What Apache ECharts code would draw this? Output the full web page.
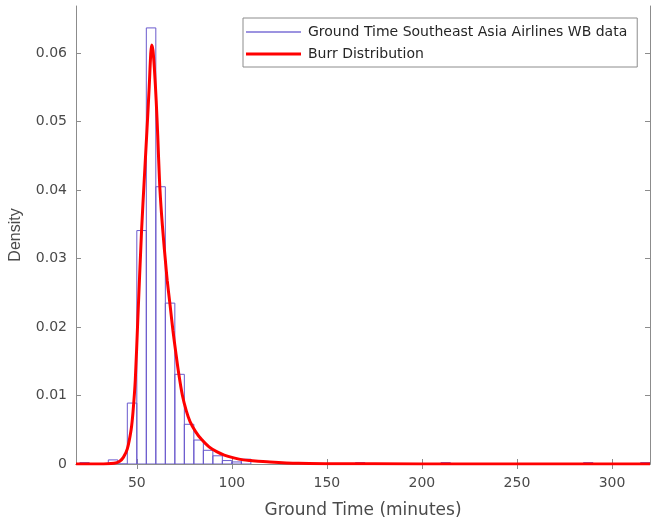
<!DOCTYPE html>
<html>
<head>
<meta charset="utf-8">
<script src="https://cdn.jsdelivr.net/npm/echarts@6/dist/echarts.min.js"></script>
<style>html,body{margin:0;padding:0;background:#fff;}#c{width:653px;height:522px;}</style>
</head>
<body>
<div id="c"></div>
<script>
// Histogram bins (left edge, minutes) and densities
const binStart = [20, 35, 40, 45, 50, 55, 60, 65, 70, 75, 80, 85, 90, 95, 100, 105, 165, 210, 285, 315];
const binWidth = 5;
const binDensity = [0.0002, 0.0006, 0, 0.0089, 0.0341, 0.0637, 0.0405, 0.0235, 0.0131, 0.0058, 0.0035, 0.0020, 0.0012, 0.0005, 0.0003, 0.0007, 0.0002, 0.0002, 0.0002, 0.0002];

// Fitted Burr curve
const curveX = [18, 30, 38, 41, 43, 45, 47, 48, 49.2, 50.5, 52.5, 54, 55.3, 56.5, 57.3, 57.8, 58.5, 59.3, 60.2, 61, 62, 63, 64, 65, 66, 67.5, 69, 70.5, 72, 74, 76, 78, 81, 84, 88, 92, 96, 101, 106, 110, 120, 135, 150, 200, 320];
const curveY = [0, 0, 0.0001, 0.0004, 0.0010, 0.0022, 0.0050, 0.0076, 0.0123, 0.0210, 0.0341, 0.0420, 0.0486, 0.0550, 0.0598, 0.0612, 0.0604, 0.0575, 0.0530, 0.0480, 0.0410, 0.0365, 0.0330, 0.0298, 0.0268, 0.0232, 0.0195, 0.0163, 0.0133, 0.0100, 0.0078, 0.0062, 0.0047, 0.0036, 0.0025, 0.0018, 0.0013, 0.0009, 0.0006, 0.0005, 0.0003, 0.0001, 0.00005, 0.00001, 0];

const xTicks = [50, 100, 150, 200, 250, 300];
const yTicks = [0, 0.01, 0.02, 0.03, 0.04, 0.05, 0.06];

const seriesNames = ['Ground Time Southeast Asia Airlines WB data', 'Burr Distribution'];
const histColor = '#6a5acd';
const fitColor = '#ff0000';

const histData = binStart.map((s, i) => [s, s + binWidth, binDensity[i]]);
const curveData = curveX.map((x, i) => [x, curveY[i]]);

const axisCol = '#8c8c8c';
const textCol = '#4a4a4a';
const font = '"DejaVu Sans", sans-serif';
const vfont = '"Liberation Sans", Arial, sans-serif';

const chart = echarts.init(document.getElementById('c'), null, {renderer: 'canvas'});
chart.setOption({
  animation: false,
  backgroundColor: '#ffffff',
  grid: {left: 76, right: 3, top: 6, bottom: 58, containLabel: false, outerBoundsMode: 'none'},
  legend: {
    left: 243, top: 18, orient: 'vertical',
    backgroundColor: '#ffffff', borderColor: '#8c8c8c', borderWidth: 1,
    padding: [7, 10, 6, 3], itemGap: 8, itemWidth: 55, itemHeight: 14,
    textStyle: {fontFamily: font, fontSize: 14, color: '#262626', padding: [0, 0, 0, 2]},
    data: [
      {name: seriesNames[0], icon: 'path://M0,0 L55,0 L55,1.6 L0,1.6 Z', itemStyle: {color: '#7b6fd6'}},
      {name: seriesNames[1], icon: 'path://M0,0 L55,0 L55,3 L0,3 Z', itemStyle: {color: fitColor}}
    ]
  },
  xAxis: [{
    type: 'value', min: 18, max: 320, position: 'bottom',
    name: 'Ground Time (minutes)', nameLocation: 'middle', nameGap: 38,
    nameTextStyle: {fontFamily: font, fontSize: 17, color: textCol},
    axisLine: {show: true, lineStyle: {color: axisCol, width: 1}},
    axisTick: {show: true, inside: true, length: 5, customValues: xTicks, lineStyle: {color: axisCol}},
    axisLabel: {customValues: xTicks, fontFamily: font, fontSize: 14, color: textCol, margin: 12},
    splitLine: {show: false}
  }, {
    type: 'value', min: 18, max: 320, position: 'top',
    axisLine: {show: true, lineStyle: {color: axisCol, width: 1}},
    axisTick: {show: true, inside: true, length: 5, customValues: xTicks, lineStyle: {color: axisCol}},
    axisLabel: {show: false}, splitLine: {show: false}
  }],
  yAxis: [{
    type: 'value', min: 0, max: 0.0669, position: 'left',
    name: 'Density', nameLocation: 'middle', nameGap: 52,
    nameTextStyle: {fontFamily: vfont, fontSize: 16, color: textCol},
    axisLine: {show: true, lineStyle: {color: axisCol, width: 1}},
    axisTick: {show: true, inside: true, length: 5, customValues: yTicks, lineStyle: {color: axisCol}},
    axisLabel: {customValues: yTicks, fontFamily: font, fontSize: 14, color: textCol, margin: 9,
      formatter: v => v === 0 ? '0' : v.toFixed(2)},
    splitLine: {show: false}
  }, {
    type: 'value', min: 0, max: 0.0669, position: 'right',
    axisLine: {show: true, lineStyle: {color: axisCol, width: 1}},
    axisTick: {show: true, inside: true, length: 5, customValues: yTicks, lineStyle: {color: axisCol}},
    axisLabel: {show: false}, splitLine: {show: false}
  }],
  series: [{
    name: seriesNames[0],
    type: 'custom',
    xAxisIndex: 0, yAxisIndex: 0,
    clip: true,
    itemStyle: {color: '#7b6fd6'},
    encode: {x: [0, 1], y: 2},
    data: histData,
    renderItem: function (params, api) {
      const p0 = api.coord([api.value(0), api.value(2)]);
      const p1 = api.coord([api.value(1), 0]);
      return {
        type: 'rect',
        shape: {x: p0[0], y: p0[1], width: p1[0] - p0[0], height: p1[1] - p0[1]},
        style: {fill: 'rgba(255,255,255,0)', stroke: histColor, lineWidth: 1}
      };
    },
    z: 2
  }, {
    name: seriesNames[1],
    type: 'line',
    xAxisIndex: 0, yAxisIndex: 0,
    data: curveData,
    showSymbol: false, smooth: 0.3,
    lineStyle: {color: fitColor, width: 3},
    itemStyle: {color: fitColor},
    z: 3
  }]
});
</script>
</body>
</html>
